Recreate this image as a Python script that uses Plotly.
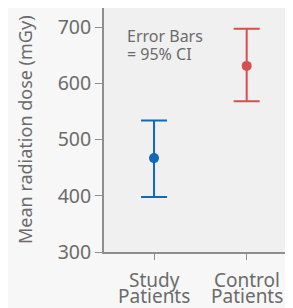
import plotly.graph_objects as go

categories = ["Study", "Control"]
category_line2 = ["Patients", "Patients"]
means = [467, 631]
upper = [534, 697]
lower = [398, 568]
colors = ["#1169b9", "#d64f4f"]
y_ticks = [300, 400, 500, 600, 700]
note_lines = ["Error Bars", "= 95% CI"]
y_title = "Mean radiation dose (mGy)"

TXT = "#6b6b6b"
FONT = "Noto Sans"

fig = go.Figure()
for i, c in enumerate(categories):
    fig.add_trace(go.Scatter(
        x=[i], y=[means[i]], mode="markers",
        marker=dict(color=colors[i], size=10),
        error_y=dict(type="data", symmetric=False,
                     array=[upper[i] - means[i]], arrayminus=[means[i] - lower[i]],
                     color=colors[i], thickness=2, width=13),
        showlegend=False,
    ))
    fig.add_annotation(x=i, xref="x", y=0, yref="paper", yanchor="middle", yshift=-27.5,
                       text=c, showarrow=False, font=dict(size=19, color=TXT, family=FONT))
    fig.add_annotation(x=i, xref="x", y=0, yref="paper", yanchor="middle", yshift=-44,
                       text=category_line2[i], showarrow=False, font=dict(size=19, color=TXT, family=FONT))

for k, line in enumerate(note_lines):
    fig.add_annotation(x=0.111, y=1, xref="paper", yref="paper", xanchor="left", yanchor="middle",
                       yshift=-(28 + 18.3 * k), text=line, showarrow=False,
                       font=dict(size=16, color=TXT, family=FONT))

fig.add_annotation(x=0, y=0.5, xref="paper", yref="paper", xanchor="center", yanchor="middle",
                   xshift=-79, text=y_title, textangle=-90, showarrow=False,
                   font=dict(size=18, color=TXT, family=FONT))

fig.update_layout(
    width=285, height=300,
    margin=dict(l=96, r=0, t=0, b=56, autoexpand=False),
    paper_bgcolor="#f7f7f7", plot_bgcolor="#f0f0f0",
    font=dict(family=FONT, color=TXT, size=16),
    xaxis=dict(range=[-0.54, 1.5], tickmode="array", tickvals=[0, 1], showticklabels=False,
               showgrid=False, zeroline=False, showline=True, linecolor="#8e8e8e", linewidth=2,
               ticks="outside", ticklen=6, tickcolor="#8e8e8e"),
    yaxis=dict(range=[300, 734], tickvals=y_ticks, showgrid=False, zeroline=False,
               showline=True, linecolor="#8e8e8e", linewidth=2,
               ticks="outside", ticklen=7, tickcolor="#8e8e8e", tickfont=dict(size=19.5)),
)

fig.write_html("out.html")
